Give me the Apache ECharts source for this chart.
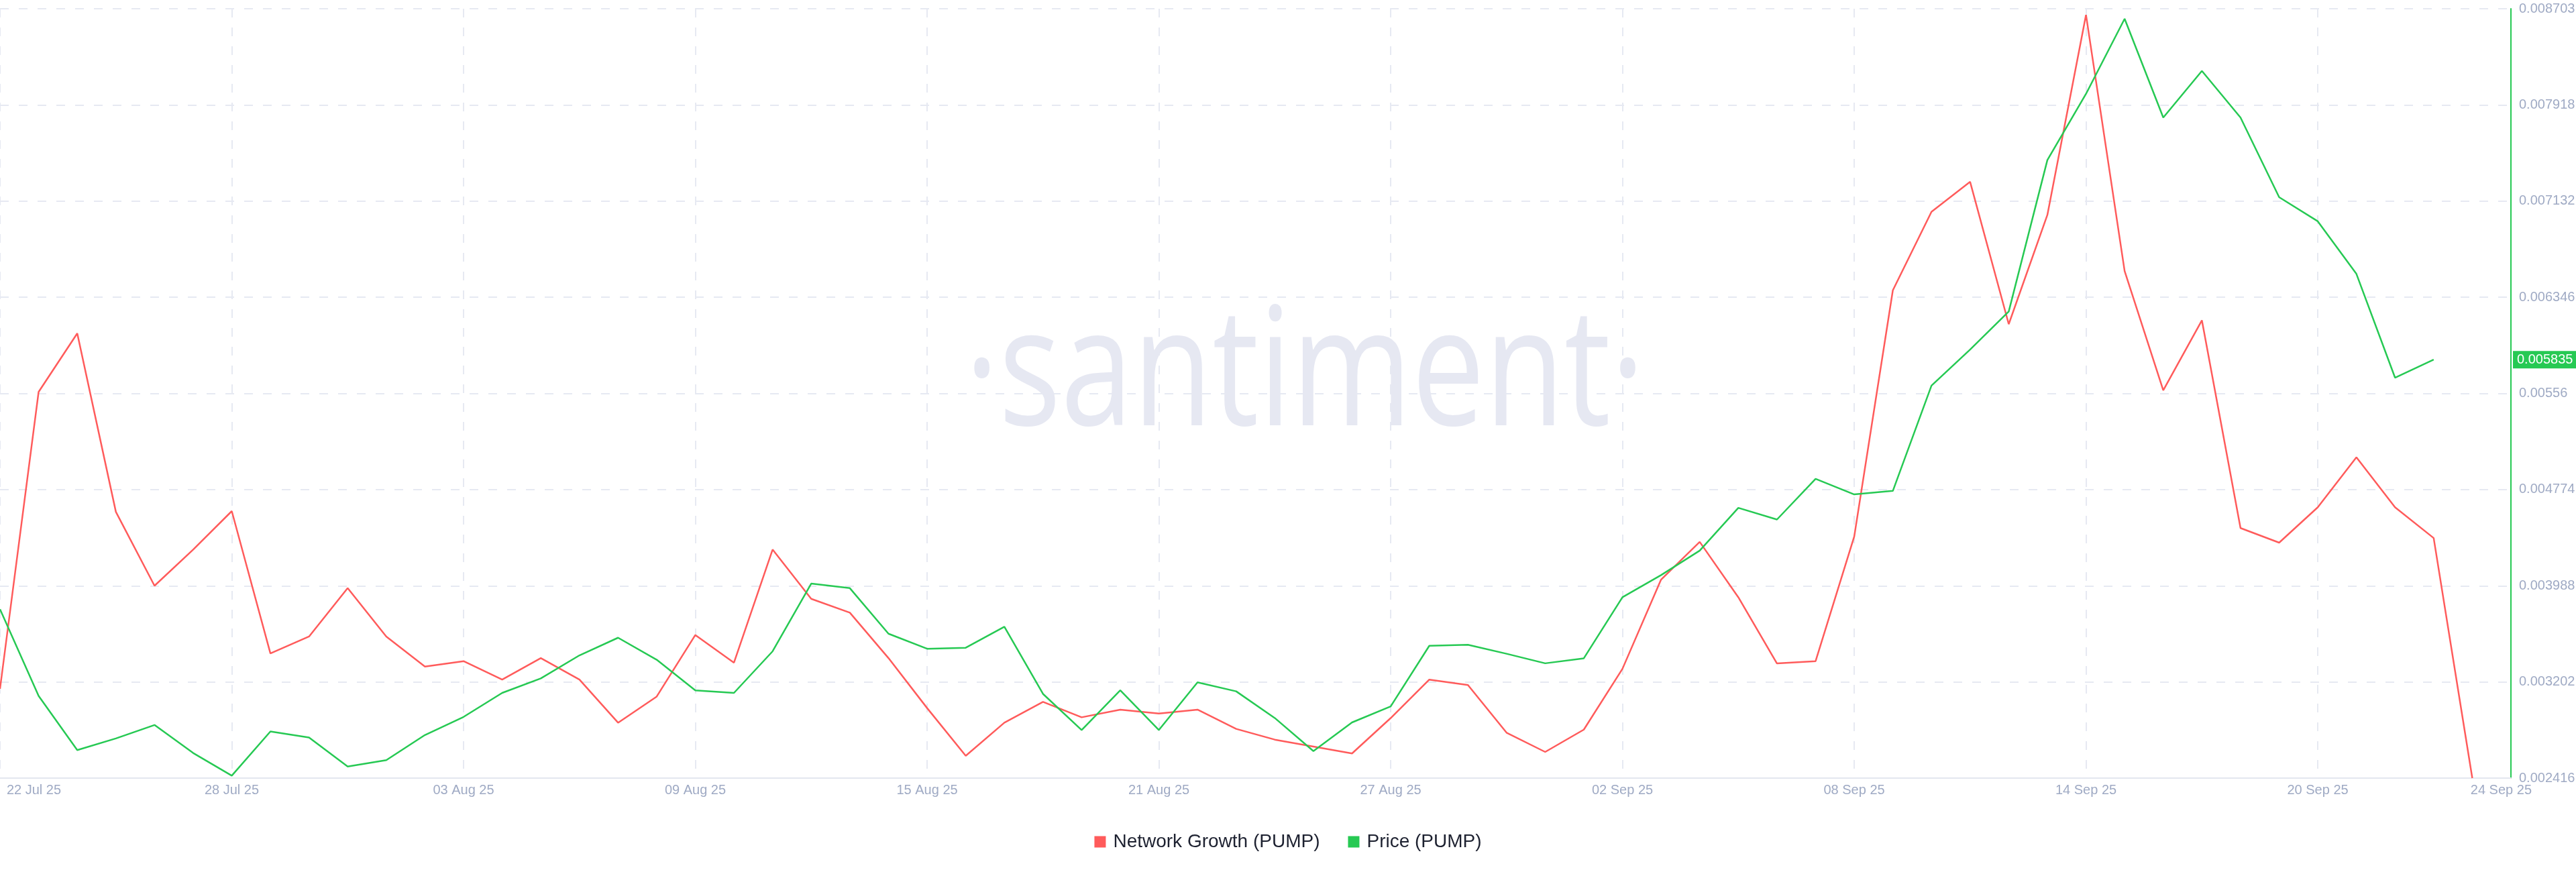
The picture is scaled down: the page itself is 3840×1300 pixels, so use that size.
<!DOCTYPE html>
<html>
<head>
<meta charset="utf-8">
<script src="https://cdn.jsdelivr.net/npm/echarts@6/dist/echarts.min.js"></script>
<style>
html,body{margin:0;padding:0;background:#fff;}
#chart{width:3840px;height:1300px;}
</style>
</head>
<body>
<div id="chart"></div>
<script>
// Categories (daily)
const dates = [
 '2025-07-22','2025-07-23','2025-07-24','2025-07-25','2025-07-26','2025-07-27','2025-07-28','2025-07-29','2025-07-30','2025-07-31',
 '2025-08-01','2025-08-02','2025-08-03','2025-08-04','2025-08-05','2025-08-06','2025-08-07','2025-08-08','2025-08-09','2025-08-10',
 '2025-08-11','2025-08-12','2025-08-13','2025-08-14','2025-08-15','2025-08-16','2025-08-17','2025-08-18','2025-08-19','2025-08-20',
 '2025-08-21','2025-08-22','2025-08-23','2025-08-24','2025-08-25','2025-08-26','2025-08-27','2025-08-28','2025-08-29','2025-08-30',
 '2025-08-31','2025-09-01','2025-09-02','2025-09-03','2025-09-04','2025-09-05','2025-09-06','2025-09-07','2025-09-08','2025-09-09',
 '2025-09-10','2025-09-11','2025-09-12','2025-09-13','2025-09-14','2025-09-15','2025-09-16','2025-09-17','2025-09-18','2025-09-19',
 '2025-09-20','2025-09-21','2025-09-22','2025-09-23','2025-09-24','2025-09-25'
];

// Network Growth (PUMP) - hidden axis, estimated
const networkGrowth = [
 116, 502, 578, 346, 250, 297, 347, 162, 184, 247,
 184, 145, 152, 128, 156, 128, 72, 106, 186, 150,
 297, 233, 215, 156, 91, 29, 72, 99, 79, 89,
 84, 89, 64, 50, 41, 32, 78, 128, 121, 59,
 34, 63, 142, 258, 307, 235, 149, 152, 314, 634,
 736, 775, 590, 732, 992, 659, 504, 595, 325, 306,
 352, 417, 352, 312, 0
];

// Price (PUMP)
const price = [
 0.003796, 0.003088, 0.002645, 0.002740, 0.002850, 0.002621, 0.002436, 0.002797, 0.002748, 0.002510,
 0.002563, 0.002768, 0.002916, 0.003112, 0.003231, 0.003419, 0.003563, 0.003383, 0.003133, 0.003112,
 0.003452, 0.004005, 0.003968, 0.003596, 0.003473, 0.003481, 0.003653, 0.003104, 0.002809, 0.003133,
 0.002809, 0.003198, 0.003125, 0.002907, 0.002637, 0.002871, 0.003002, 0.003497, 0.003505, 0.003432,
 0.003354, 0.003395, 0.003894, 0.004075, 0.004275, 0.004624, 0.004529, 0.004861, 0.004734, 0.004763,
 0.005623, 0.005918, 0.006229, 0.007466, 0.008007, 0.008621, 0.007814, 0.008195, 0.007814, 0.007163,
 0.006966, 0.006536, 0.005688, 0.005835
];

// Right axis tick labels
const priceTicks = ['0.002416','0.003202','0.003988','0.004774','0.00556','0.006346','0.007132','0.007918','0.008703'];
const priceMin = 0.002416, priceMax = 0.008703;

const MONTHS = ['Jan','Feb','Mar','Apr','May','Jun','Jul','Aug','Sep','Oct','Nov','Dec'];
function fmtDate(s){
  const p = s.split('-');
  return p[2] + ' ' + MONTHS[parseInt(p[1],10)-1] + ' ' + p[0].slice(2);
}
const FONT = '"Liberation Sans", Arial, sans-serif';
const LABEL_COLOR = '#9faac4';
const GRID_COLOR = '#e6e9f2';
const GREEN = '#26c953';
const RED = '#ff5b5b';
const lastLabelIdx = 64;
const lastPrice = price[price.length - 1];

const chart = echarts.init(document.getElementById('chart'), null, {renderer:'canvas'});
const option = {
  animation: false,
  backgroundColor: '#ffffff',
  grid: {left: 0, right: 97, top: 13, bottom: 140, containLabel: false, outerBoundsMode: 'none'},
  graphic: {
    elements: [{
      type: 'text', x: 1945, y: 564, scaleX: 0.79, z: 1, silent: true,
      style: {text: '\u00B7santiment\u00B7', fill: '#e6e8f2', fontSize: 245, fontFamily: '"Open Sans", sans-serif', align: 'center', verticalAlign: 'middle'}
    }]
  },
  legend: {
    top: 1236, left: 'center', icon: 'rect', itemWidth: 17, itemHeight: 17, itemGap: 42,
    textStyle: {fontSize: 28, color: '#1d2130', fontFamily: FONT, padding: [0,0,0,6]},
    data: ['Network Growth (PUMP)', 'Price (PUMP)']
  },
  xAxis: {
    type: 'category', data: dates, boundaryGap: false,
    axisLine: {show: true, lineStyle: {color: '#e3e6ef', width: 2}},
    axisTick: {show: false},
    axisLabel: {
      color: LABEL_COLOR, fontSize: 20, fontFamily: FONT, margin: 8,
      interval: function(i){ return (i % 6 === 0 && i <= 60) || i === lastLabelIdx; },
      formatter: function(v, i){
        const t = fmtDate(v);
        if (i === 0) return '{first|' + t + '}';
        if (i === lastLabelIdx) return '{last|' + t + '}';
        return t;
      },
      rich: {
        first: {padding: [0,0,0,101], fontSize: 20, color: LABEL_COLOR, fontFamily: FONT},
        last: {padding: [0,0,0,86], fontSize: 20, color: LABEL_COLOR, fontFamily: FONT}
      }
    },
    splitLine: {
      show: true,
      interval: function(i){ return i % 6 === 0 && i <= 60; },
      lineStyle: {color: GRID_COLOR, width: 2, type: [13, 15]}
    }
  },
  yAxis: [
    {type: 'value', min: priceMin, max: priceMax, show: false, splitLine: {show: false}},
    {type: 'value', min: 0, max: 1000, show: false, splitLine: {show: false}},
    {
      type: 'value', position: 'right', min: 0, max: 8, interval: 1,
      axisLine: {show: true, lineStyle: {color: GREEN, width: 2}},
      axisTick: {show: false},
      axisLabel: {color: LABEL_COLOR, fontSize: 20, fontFamily: FONT, margin: 12,
        formatter: function(v){ return priceTicks[Math.round(v)]; }},
      splitLine: {show: true, lineStyle: {color: GRID_COLOR, width: 2, type: [13, 15]}}
    },
    {
      type: 'value', position: 'right', min: priceMin, max: priceMax,
      axisLine: {show: false}, axisTick: {show: false}, splitLine: {show: false},
      axisLabel: {
        show: true, customValues: [lastPrice], margin: 3,
        formatter: function(v){ return Number(v).toFixed(6); },
        color: '#ffffff', backgroundColor: GREEN, fontSize: 20, fontFamily: FONT,
        padding: [3, 6, 3, 6], lineHeight: 20
      }
    }
  ],
  series: [
    {
      name: 'Network Growth (PUMP)', type: 'line', yAxisIndex: 1, data: networkGrowth,
      showSymbol: false, symbol: 'none', color: RED,
      lineStyle: {color: RED, width: 2.5}, itemStyle: {color: RED}, z: 3
    },
    {
      name: 'Price (PUMP)', type: 'line', yAxisIndex: 0, data: price,
      showSymbol: false, symbol: 'none', color: GREEN,
      lineStyle: {color: GREEN, width: 2.5}, itemStyle: {color: GREEN}, z: 4
    }
  ]
};
chart.setOption(option);
</script>
</body>
</html>
